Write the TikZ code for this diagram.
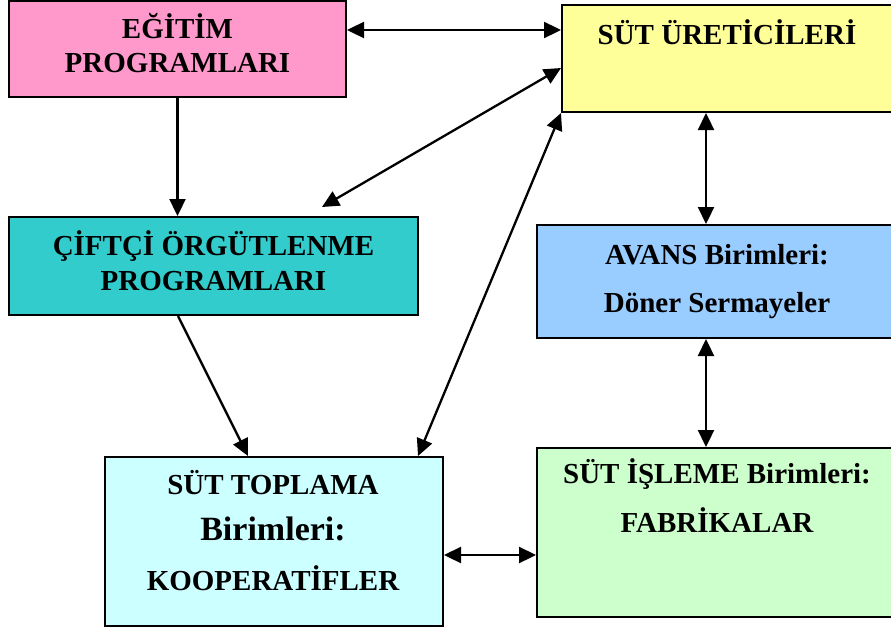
\documentclass[tikz,border=0pt]{standalone}
\usepackage{fontspec}
\setmainfont{Liberation Serif}
\usetikzlibrary{arrows.meta}
\definecolor{pinkc}{HTML}{FF99CC}
\definecolor{yellowc}{HTML}{FFFF99}
\definecolor{tealc}{HTML}{33CCCC}
\definecolor{bluec}{HTML}{99CCFF}
\definecolor{cyanc}{HTML}{CCFFFF}
\definecolor{greenc}{HTML}{CCFFCC}
\tikzset{
  box/.style={draw=black, line width=2pt, rectangle, inner sep=0pt},
  lbl/.style={anchor=base, inner sep=0pt, font=\bfseries\fontsize{29}{34}\selectfont},
  biglbl/.style={anchor=base, inner sep=0pt, font=\bfseries\fontsize{34}{40}\selectfont},
  arr/.style={line width=2.3pt, -{Triangle[length=17pt,width=16pt]}},
  darr/.style={line width=2.3pt, {Triangle[length=17pt,width=16pt]}-{Triangle[length=17pt,width=16pt]}}
}
\begin{document}
\begin{tikzpicture}[x=1pt,y=-1pt]
\useasboundingbox (0,0) rectangle (891,629);
% boxes
\node[box, fill=pinkc,   minimum width=337pt, minimum height=96pt]  (egitim)  at (177.5,49) {};
\node[box, fill=yellowc, minimum width=333pt, minimum height=107pt] (uretici) at (728.5,58.5) {};
\node[box, fill=tealc,   minimum width=409pt, minimum height=98pt]  (ciftci)  at (213.5,266) {};
\node[box, fill=bluec,   minimum width=358pt, minimum height=113pt] (avans)   at (716,281.5) {};
\node[box, fill=cyanc,   minimum width=338pt, minimum height=169pt] (toplama) at (274,541.5) {};
\node[box, fill=greenc,  minimum width=358pt, minimum height=169pt] (isleme)  at (716,532.5) {};
% texts
\node[lbl] (t1a) at (177.5,38) {EĞİTİM};
\node[lbl] (t1b) at (177.5,72) {PROGRAMLARI};
\node[lbl] (t2a) at (727,44) {SÜT ÜRETİCİLERİ};
\node[lbl] (t3a) at (213.5,255) {ÇİFTÇİ ÖRGÜTLENME};
\node[lbl] (t3b) at (213.5,290) {PROGRAMLARI};
\node[lbl] (t4a) at (717,264) {AVANS Birimleri:};
\node[lbl] (t4b) at (717,312) {Döner Sermayeler};
\node[lbl] (t5a) at (273,494) {SÜT TOPLAMA};
\node[biglbl] (t5b) at (273,540) {Birimleri:};
\node[lbl] (t5c) at (273,590) {KOOPERATİFLER};
\node[lbl] (t6a) at (717,483) {SÜT İŞLEME Birimleri:};
\node[lbl] (t6b) at (717,532) {FABRİKALAR};
% connectors
\draw[darr] ([yshift=19pt]egitim.east) -- ([yshift=19pt]egitim.east -| uretici.west);
\draw[arr] (egitim.south) -- (egitim.south |- ciftci.north);
\draw[darr] ([yshift=-9.5pt]uretici.west) -- ([xshift=108.5pt,yshift=9pt]ciftci.north);
\draw[darr] (uretici.south west) -- ([xshift=144pt]toplama.north);
\draw[arr] ([xshift=-35.5pt]ciftci.south) -- ([xshift=-26pt]toplama.north);
\draw[darr] ([xshift=-22.5pt]uretici.south) -- ([xshift=-22.5pt]uretici.south |- avans.north);
\draw[darr] ([xshift=-10pt]avans.south) -- ([xshift=-10pt]avans.south |- isleme.north);
\draw[darr] ([yshift=-13.5pt]toplama.east) -- ([yshift=-13.5pt]toplama.east -| isleme.west);
\end{tikzpicture}
\end{document}
